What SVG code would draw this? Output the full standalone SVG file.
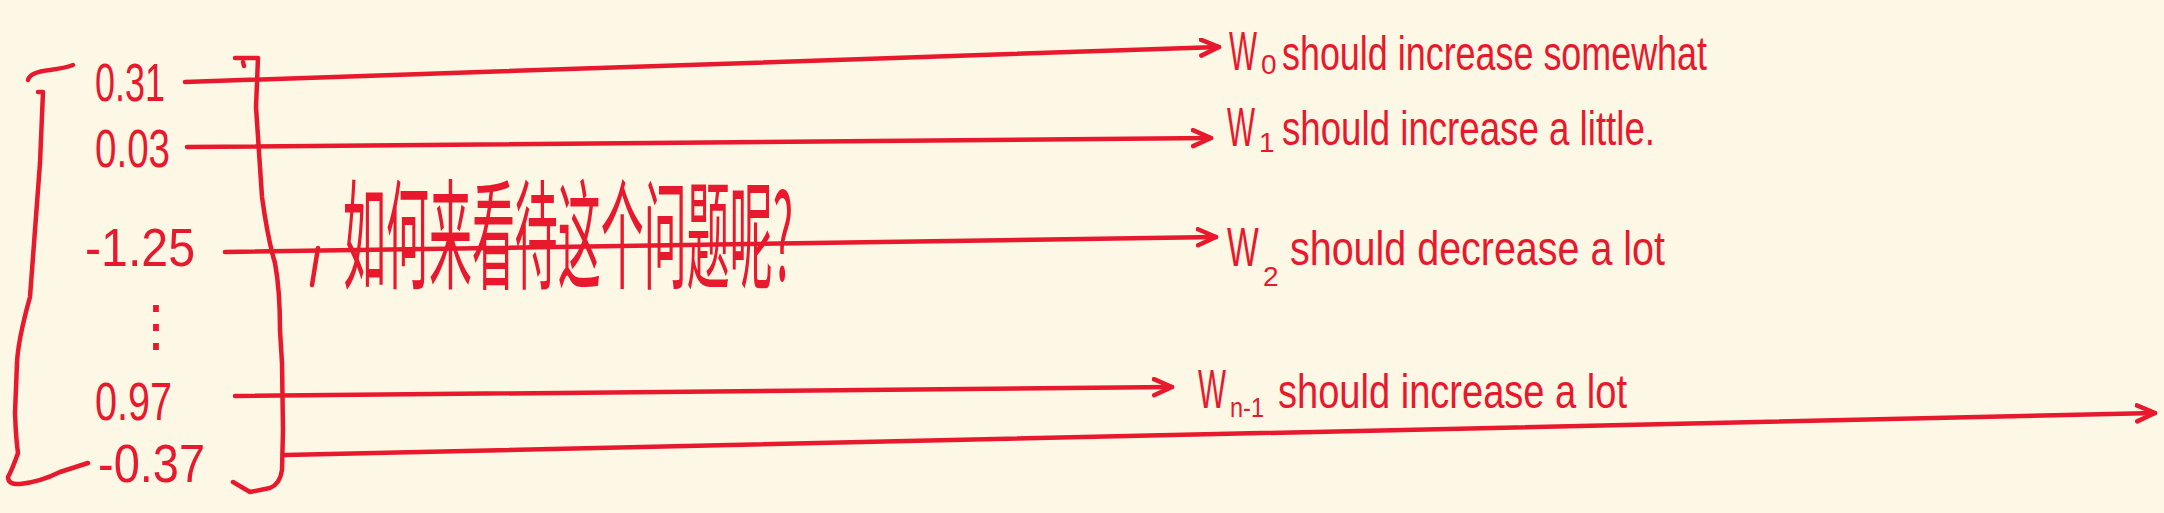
<svg xmlns="http://www.w3.org/2000/svg" width="2164" height="513" viewBox="0 0 2164 513">
<defs>
<style>
.ink{fill:none;stroke:#E8192C;stroke-width:4.5;stroke-linecap:round;stroke-linejoin:round}
.hw{fill:#E8192C;font-family:"Liberation Sans","DejaVu Sans",sans-serif}
.num{font-size:54px}
.w{font-size:56px}
.lbl{font-size:48px}
.sub{font-size:28px}
.zh{fill:#E8192C;font-family:"Noto Sans CJK SC","Noto Sans CJK JP",sans-serif;font-size:52px}
</style>
<marker id="arr" markerUnits="userSpaceOnUse" markerWidth="30" markerHeight="30" refX="20" refY="10" orient="auto" viewBox="0 0 30 30">
<path d="M2,2 L20,10 L2,18" fill="none" stroke="#E8192C" stroke-width="4.5" stroke-linecap="round" stroke-linejoin="round"/>
</marker>
</defs>
<rect width="2164" height="513" fill="#FDF7E6"/>

<g id="vector">
<path class="ink" d="M28,80 Q30,72 50,70 Q65,68 73,65"/>
<path class="ink" d="M38,92 L43,92 L40,163 L30,297 Q18,340 17,363 L15,413 Q16,440 18,453 Q12,470 8,477 Q8,485 20,484 Q40,482 60,472 L88,463"/>
<path class="ink" d="M235,58 L258,58 L256,107 L262,197 Q268,240 275,263 Q280,290 280,330 L282,363 L283,430 L282,470 Q280,484 270,488 L250,492 L233,482"/>
<path class="ink" d="M243,62 L244,66"/>
<text class="hw num" x="95" y="101" textLength="70" lengthAdjust="spacingAndGlyphs">0.31</text>
<text class="hw num" x="95" y="167" textLength="75" lengthAdjust="spacingAndGlyphs">0.03</text>
<text class="hw num" x="85" y="266" textLength="110" lengthAdjust="spacingAndGlyphs">-1.25</text>
<text class="hw" x="128" y="345" font-size="56" font-family="DejaVu Sans">⋮</text>
<text class="hw num" x="95" y="420" textLength="77" lengthAdjust="spacingAndGlyphs">0.97</text>
<text class="hw num" x="98" y="482" textLength="107" lengthAdjust="spacingAndGlyphs">-0.37</text>
</g>

<g id="question">
<path class="ink" d="M318,248 L312,285"/>
<text class="zh" transform="translate(343,280) scale(1,2.3)" textLength="450" lengthAdjust="spacingAndGlyphs">如何来看待这个问题呢?</text>
</g>

<g id="connectors">
<line class="ink" x1="185" y1="82" x2="1219" y2="47" marker-end="url(#arr)"/>
<line class="ink" x1="187" y1="147" x2="1211" y2="138" marker-end="url(#arr)"/>
<line class="ink" x1="225" y1="252" x2="1216" y2="237" marker-end="url(#arr)"/>
<line class="ink" x1="235" y1="396" x2="1172" y2="387" marker-end="url(#arr)"/>
<line class="ink" x1="285" y1="455" x2="2155" y2="413" marker-end="url(#arr)"/>
</g>

<g id="label-w0">
<text class="hw w" transform="translate(1229,70) scale(0.53,1)">W</text>
<text class="hw sub" x="1261" y="74">0</text>
<text class="hw lbl" x="1282" y="70" textLength="425" lengthAdjust="spacingAndGlyphs">should increase somewhat</text>
</g>
<g id="label-w1">
<text class="hw w" transform="translate(1227,146) scale(0.53,1)">W</text>
<text class="hw sub" x="1259" y="152">1</text>
<text class="hw lbl" x="1282" y="145" textLength="373" lengthAdjust="spacingAndGlyphs">should increase a little.</text>
</g>
<g id="label-w2">
<text class="hw w" transform="translate(1227,266) scale(0.6,1)">W</text>
<text class="hw sub" x="1263" y="286">2</text>
<text class="hw lbl" x="1290" y="265" textLength="375" lengthAdjust="spacingAndGlyphs">should decrease a lot</text>
</g>
<g id="label-wn1">
<text class="hw w" transform="translate(1198,408) scale(0.53,1)">W</text>
<text class="hw sub" x="1230" y="417" textLength="34" lengthAdjust="spacingAndGlyphs">n-1</text>
<text class="hw lbl" x="1278" y="408" textLength="349" lengthAdjust="spacingAndGlyphs">should increase a lot</text>
</g>
</svg>
